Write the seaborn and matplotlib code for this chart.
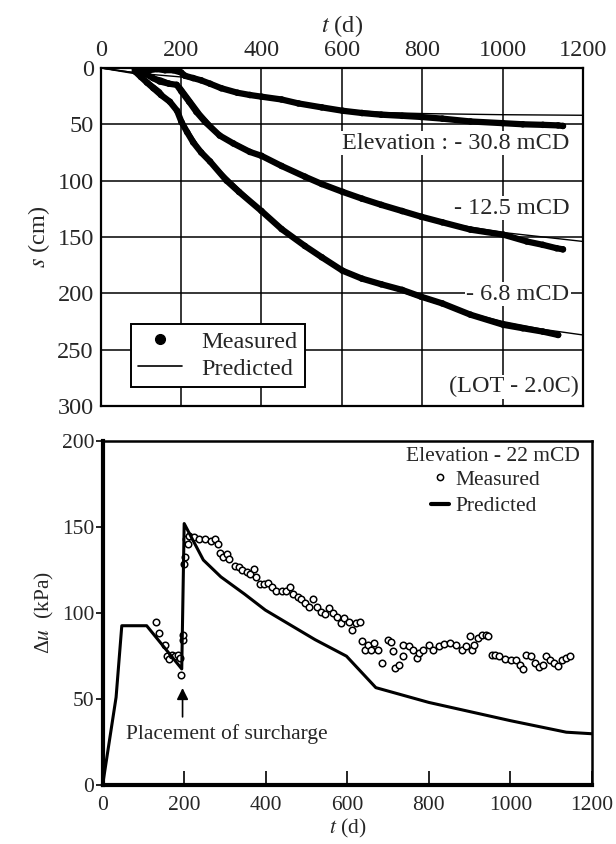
import numpy as np
import pandas as pd
import seaborn as sns
import matplotlib.pyplot as plt
from matplotlib.lines import Line2D

sns.set_theme(style="white")
plt.rcParams['font.family'] = ['Liberation Serif', 'DejaVu Serif']
plt.rcParams['mathtext.fontset'] = 'stix'

# --- top panel: settlement s (cm) vs time t (d) ---
# Elevation -30.8 mCD
t_m1 = [85, 100, 120, 140, 160, 180, 200, 210, 230, 250, 272, 300, 340, 371, 400, 450, 492,
        550, 602, 650, 698, 750, 797, 850, 920, 1000, 1050, 1100, 1138, 1150]
s_m1 = [1, 1, 2, 1, 2, 2, 4, 7, 9, 11, 14, 18, 22, 24, 25.5, 28, 31.5,
        35, 38, 40, 41.5, 42.5, 43.5, 45, 47.5, 49, 50, 50.5, 51, 51.5]
# Elevation -12.5 mCD
t_m2 = [90, 110, 130, 147, 170, 189, 201, 220, 238, 260, 296, 330, 371, 400, 450, 508, 550,
        602, 650, 698, 750, 797, 850, 920, 1002, 1060, 1100, 1134, 1150]
s_m2 = [2, 5, 9, 12, 14, 15, 21, 30, 39, 48, 60, 67, 74.5, 78, 87, 96.5, 103,
        110, 116, 121.5, 127, 132, 137, 143.5, 148, 154, 157, 160, 161]
# Elevation -6.8 mCD
t_m3 = [85, 100, 115, 131, 150, 172, 190, 201, 215, 230, 250, 272, 313, 344, 400, 450, 508,
        550, 602, 650, 698, 750, 797, 850, 920, 1002, 1050, 1100, 1138]
s_m3 = [3, 8, 13, 18, 24, 30, 38, 48, 57, 66, 75, 83, 100, 110, 127, 143, 158,
        168, 180, 187, 192, 197, 203, 209, 219, 228, 231, 234, 237]

t_p1 = [0, 100, 200, 300, 400, 500, 600, 700, 800, 1000, 1200]
s_p1 = [0, 5, 8, 17, 26, 32, 37, 39.5, 40.5, 41.5, 42]
t_p2 = [0, 100, 150, 200, 250, 300, 400, 500, 600, 700, 800, 900, 1000, 1100, 1200]
s_p2 = [0, 5, 9, 16, 40, 60, 78, 95, 110, 122, 133, 140, 146, 150, 154]
t_p3 = [0, 100, 150, 200, 250, 300, 400, 500, 600, 700, 800, 900, 1000, 1100, 1200]
s_p3 = [0, 6, 20, 45, 73, 92, 126, 156, 178, 193, 205, 216, 225, 232, 237]

top_labels = ["Elevation : - 30.8 mCD", "- 12.5 mCD", "- 6.8 mCD"]
top_label_s = [67, 124.6, 201]

# --- bottom panel: excess pore pressure ---
t_pred = [0, 33, 47, 108, 194, 200, 247, 290, 348, 399, 521, 598, 670, 800, 1000, 1137, 1200]
u_pred = [0, 51, 92.6, 92.6, 67.5, 152, 130.8, 121, 111, 101.7, 84.5, 74.9, 56.6, 48, 37.4, 30.7, 29.8]

t_meas = [130, 138, 154, 158, 163, 170, 177, 184, 189, 193, 196, 197, 200, 202, 204, 209, 213,
          223, 237, 252, 266, 276, 284, 288, 295, 305, 311, 324, 334, 343, 353, 362, 372, 377,
          386, 396, 406, 415, 425, 439, 449, 459, 468, 478, 487, 497, 507, 516, 526, 536, 545,
          555, 564, 574, 584, 593, 603, 612, 622, 632, 636, 644, 651, 658, 665, 675, 685, 699,
          707, 713, 718, 728, 737, 737, 752, 761, 771, 776, 786, 800, 810, 824, 838, 853, 867,
          882, 891, 901, 906, 911, 920, 930, 939, 946, 954, 963, 973, 987, 1002, 1013, 1023,
          1031, 1038, 1050, 1060, 1069, 1079, 1088, 1098, 1108, 1117, 1127, 1136, 1146]
u_meas = [94.6, 88.3, 81.6, 75, 73, 75.8, 75, 75.8, 74, 63.7, 84.5, 87.3, 128.6, 132.4, 143, 140, 145,
          144.3, 143, 143, 142, 143, 140, 135, 132.4, 134.4, 131.5, 127.6, 126.7, 125, 123.8, 122.5, 125.7, 121,
          117, 116.7, 117.5, 115, 113, 112.9, 113, 115, 111.3, 109.4, 107.9, 106, 103.6, 108.4, 103.6, 100.8, 99.2,
          102.7, 99.8, 97.9, 94, 97, 95, 90.2, 94, 95, 83.5, 78.7, 81.6, 78.7, 82.5, 78.7, 71, 84.5,
          83, 77.7, 68, 70, 74.9, 81.6, 80.6, 78.7, 73.9, 76.8, 78.7, 81.6, 78.7, 80.6, 82.1, 82.5, 81.6,
          78.7, 80.6, 86.4, 78.7, 81.6, 85.4, 87.3, 87.3, 86.4, 75.8, 75.8, 74.9, 73.3, 72.9, 72.6, 69.7,
          67.2, 75.8, 75.2, 71, 68.7, 70, 74.9, 72.9, 71, 69, 72.9, 73.9, 75.2]

fig = plt.figure(figsize=(6.16, 8.44), dpi=100)

# ---------------- top panel ----------------
ax1 = fig.add_axes([0.1635, 0.519, 0.783, 0.4005])
for tm, sm in [(t_m1, s_m1), (t_m2, s_m2), (t_m3, s_m3)]:
    df = pd.DataFrame({"t": tm, "s": sm})
    sns.lineplot(data=df, x="t", y="s", ax=ax1, color="black", lw=4.5, sort=False)
    sns.scatterplot(data=df, x="t", y="s", ax=ax1, color="black", s=22, edgecolor="none")
for tp, sp in [(t_p1, s_p1), (t_p2, s_p2), (t_p3, s_p3)]:
    sns.lineplot(x=tp, y=sp, ax=ax1, color="black", lw=1.0)

ax1.set_xlim(0, 1200)
ax1.set_ylim(300, 0)
ax1.set_xticks(range(0, 1201, 200))
ax1.set_yticks(range(0, 301, 50))
ax1.xaxis.tick_top()
ax1.xaxis.set_label_position("top")
ax1.tick_params(length=0, labelsize=17.5, pad=5)
ax1.grid(True, color="black", lw=1.1)
for sp in ax1.spines.values():
    sp.set_color("black")
    sp.set_linewidth(1.6)
ax1.set_xlabel("$t$ (d)", fontsize=17.5, labelpad=6)
ax1.set_ylabel("$s$ (cm)", fontsize=17.5, labelpad=4)

for lab, yy in zip(top_labels, top_label_s):
    ax1.text(1166, yy, lab, ha="right", va="center", fontsize=17.5,
             bbox=dict(facecolor="white", edgecolor="none", pad=1))
ax1.text(1190, 283, "(LOT - 2.0C)", ha="right", va="center", fontsize=17.5,
         bbox=dict(facecolor="white", edgecolor="none", pad=1))

h1 = [Line2D([], [], color="black", marker="o", ms=7, lw=0),
      Line2D([], [], color="black", lw=1.2)]
leg1 = ax1.legend(h1, ["Measured", "Predicted"], loc="lower left",
                  bbox_to_anchor=(0.063, 0.056), borderaxespad=0, fontsize=17.5,
                  fancybox=False, edgecolor="black", framealpha=1,
                  handlelength=1.8, labelspacing=0.2, borderpad=0.3)
leg1.get_frame().set_linewidth(1.4)

# ---------------- bottom panel ----------------
ax2 = fig.add_axes([0.1666, 0.0699, 0.7944, 0.4076])
sns.lineplot(x=t_pred, y=u_pred, ax=ax2, color="black", lw=2.2, sort=False)
sns.scatterplot(x=t_meas, y=u_meas, ax=ax2, facecolor="white", edgecolor="black",
                s=22, linewidth=1.1, marker="o")
ax2.set_xlim(0, 1200)
ax2.set_ylim(0, 200)
ax2.set_xticks(range(0, 1201, 200))
ax2.set_yticks(range(0, 201, 50))
ax2.tick_params(axis="x", direction="in", length=10, width=1.2, labelsize=15.5, pad=8,
                bottom=True, color="black")
ax2.tick_params(axis="y", direction="out", length=5, width=1.2, labelsize=15.5, pad=1,
                left=True, color="black")
for name, sp in ax2.spines.items():
    sp.set_color("black")
    sp.set_linewidth(3 if name in ("left", "bottom") else 1.8)
ax2.set_xlabel("$t$ (d)", fontsize=15.5, labelpad=1)
ax2.set_ylabel("Δ$u$  (kPa)", fontsize=15.5, labelpad=4)

ax2.annotate("", xy=(196, 58), xytext=(196, 38),
             arrowprops=dict(arrowstyle="-|>", color="black", lw=1.2, mutation_scale=17))
ax2.text(305, 29.5, "Placement of surcharge", ha="center", va="center", fontsize=15.5)

ax2.text(0.975, 0.956, "Elevation - 22 mCD", transform=ax2.transAxes,
         ha="right", va="center", fontsize=15.5)
h2 = [Line2D([], [], color="black", marker="o", ms=4.5, mfc="white", mew=1.1, lw=0),
      Line2D([], [], color="black", lw=3)]
ax2.legend(h2, ["Measured", "Predicted"], loc="upper left", bbox_to_anchor=(0.672, 0.917),
           borderaxespad=0, borderpad=0, frameon=False, fontsize=15.5,
           handlelength=0.8, handletextpad=0.3, labelspacing=0.3)

fig.savefig("out.png", dpi=100)
